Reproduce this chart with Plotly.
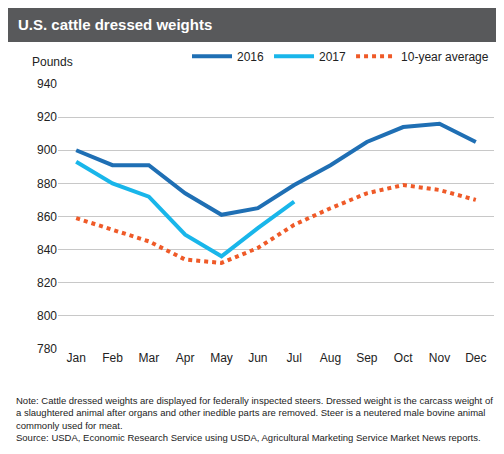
import plotly.graph_objects as go

months = ["Jan","Feb","Mar","Apr","May","Jun","Jul","Aug","Sep","Oct","Nov","Dec"]
y2016 = [900, 891, 891, 874, 861, 865, 879, 891, 905, 914, 916, 905]
y2017 = [893, 880, 872, 849, 836, 853, 869]
avg10 = [859, 852, 845, 834, 832, 841, 855, 865, 874, 879, 876, 870]
yticks = [780, 800, 820, 840, 860, 880, 900, 920, 940]

fig = go.Figure()
fig.add_trace(go.Scatter(x=months, y=y2016, name="2016", mode="lines",
                         line=dict(color="#1f6fb4", width=4)))
fig.add_trace(go.Scatter(x=months[:len(y2017)], y=y2017, name="2017", mode="lines",
                         line=dict(color="#19b6ea", width=4)))
fig.add_trace(go.Scatter(x=months, y=avg10, name="10-year average", mode="lines",
                         line=dict(color="#ef5a28", width=4, dash="dot")))

H = 265
fig.update_layout(
    width=504, height=454, paper_bgcolor="white", plot_bgcolor="white",
    margin=dict(l=50, r=18, t=76, b=113),
    font=dict(family="Arial, Liberation Sans", size=12, color="#222"),
    showlegend=True,
    legend=dict(orientation="h", x=1, xanchor="right", y=1.05, yanchor="bottom",
                font=dict(size=12), itemwidth=40, traceorder="normal"),
    xaxis=dict(range=[-0.5, 11.5], showgrid=False, showline=False, ticks="",
               tickfont=dict(size=12)),
    yaxis=dict(range=[780, 940], tickvals=yticks, showgrid=True, gridcolor="#c8c8c8",
               gridwidth=1, zeroline=False, ticks="", tickfont=dict(size=12)),
)
fig.add_shape(type="rect", xref="paper", yref="paper", x0=-50/436, x1=1+18/436,
              y0=1+42/H, y1=1+80/H, fillcolor="#58595b", line=dict(width=0), layer="below")
fig.add_annotation(text="<b>U.S. cattle dressed weights</b>", xref="paper", yref="paper",
                   x=-42/436, y=1+60/H, xanchor="left", yanchor="middle", showarrow=False,
                   font=dict(size=15, color="white"))
fig.add_annotation(text="Pounds", xref="paper", yref="paper", x=-28/436, y=1+22/H,
                   xanchor="left", yanchor="middle", showarrow=False, font=dict(size=12))
fig.add_annotation(
    text="Note: Cattle dressed weights are displayed for federally inspected steers. Dressed weight is the carcass weight of<br>"
         "a slaughtered animal after organs and other inedible parts are removed. Steer is a neutered male bovine animal<br>"
         "commonly used for meat.<br>"
         "Source: USDA, Economic Research Service using USDA, Agricultural Marketing Service Market News reports.",
    xref="paper", yref="paper", x=-44/436, y=-44/H, xanchor="left", yanchor="top",
    align="left", showarrow=False, font=dict(size=9.5, color="#222"))
fig.write_html("out.html")
